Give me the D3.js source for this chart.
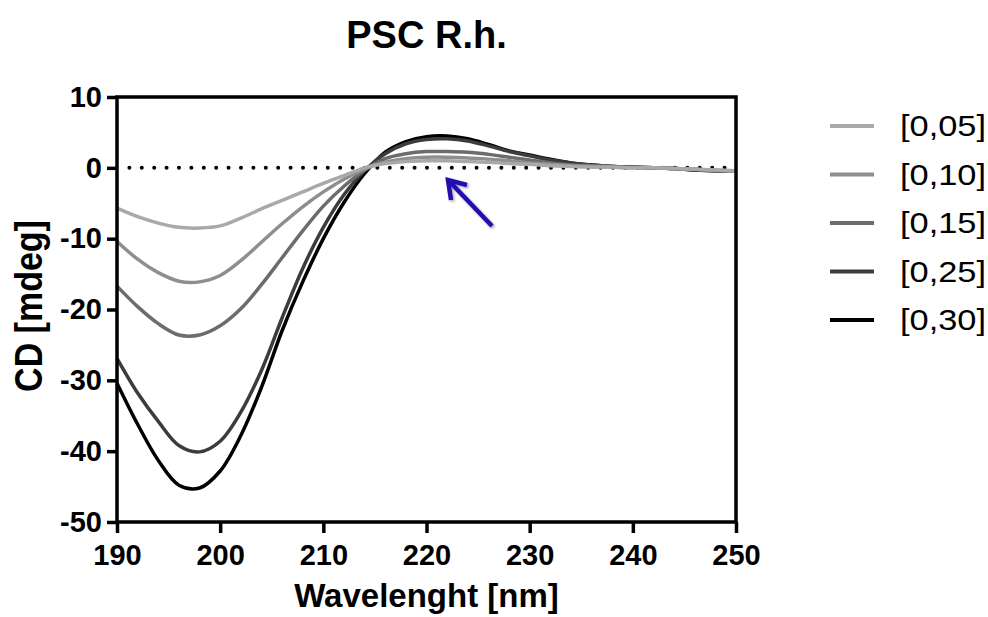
<!DOCTYPE html>
<html>
<head>
<meta charset="utf-8">
<script src="https://cdn.jsdelivr.net/npm/d3@7"></script>
<style>
  body { margin: 0; background: #fff; }
  text { font-family: "Liberation Sans", Arial, sans-serif; }
</style>
</head>
<body>
<div id="chart"></div>
<script>
// Données
const wavelengths = [190, 192, 194, 196, 198, 200, 202, 204, 206, 208, 210, 212, 214, 216, 218, 220,
  222, 224, 226, 228, 230, 232, 234, 236, 238, 240, 242, 244, 246, 248, 250];

const cd005 = [-5.7, -6.9, -7.8, -8.4, -8.5, -8.2, -7.1, -5.8, -4.6, -3.4, -2.2, -1.1, 0.0, 0.6, 0.9, 1.0,
  1.0, 0.9, 0.8, 0.6, 0.5, 0.3, 0.2, 0.1, 0.1, 0.0, 0.0, -0.1, -0.2, -0.3, -0.4];
const cd010 = [-10.4, -12.9, -14.8, -16.0, -16.1, -15.2, -13.1, -10.5, -7.9, -5.5, -3.4, -1.6, -0.2, 0.8, 1.3, 1.5,
  1.5, 1.4, 1.2, 1.0, 0.7, 0.5, 0.3, 0.2, 0.1, 0.0, 0.0, -0.1, -0.2, -0.3, -0.5];
const cd015 = [-16.7, -19.6, -22.0, -23.6, -23.6, -22.3, -19.9, -16.5, -12.7, -8.9, -5.4, -2.6, -0.3, 1.3, 2.0, 2.3,
  2.3, 2.2, 1.9, 1.5, 1.1, 0.7, 0.4, 0.3, 0.2, 0.1, 0.0, -0.1, -0.2, -0.4, -0.5];
const cd025 = [-26.9, -31.8, -35.8, -39.2, -40.1, -38.6, -34.5, -28.6, -21.2, -14.2, -8.4, -3.8, -0.4, 2.0, 3.4, 4.0,
  4.1, 3.8, 3.1, 2.3, 1.7, 1.1, 0.7, 0.4, 0.2, 0.1, 0.0, -0.1, -0.3, -0.4, -0.5];
const cd030 = [-30.4, -36.2, -41.3, -44.8, -45.2, -42.8, -37.8, -31.0, -23.0, -16.1, -10.0, -4.9, -0.8, 2.2, 3.7, 4.4,
  4.5, 4.1, 3.3, 2.4, 1.8, 1.2, 0.7, 0.4, 0.2, 0.1, 0.0, -0.1, -0.3, -0.4, -0.5];

const seriesNames = ["[0,05]", "[0,10]", "[0,15]", "[0,25]", "[0,30]"];
const seriesValues = [cd005, cd010, cd015, cd025, cd030];
const seriesColors = ["#a9a9a9", "#8e8e8e", "#6c6c6c", "#3c3c3c", "#000000"];

const xTicks = [190, 200, 210, 220, 230, 240, 250];
const yTicks = [10, 0, -10, -20, -30, -40, -50];

// Dimensions
const width = 988, height = 617;
const plotLeft = 117, plotRight = 736, plotTop = 97, plotBottom = 522;

const svg = d3.select("#chart")
    .append("svg")
    .attr("width", width)
    .attr("height", height);

const x = d3.scaleLinear().domain([190, 250]).range([plotLeft, plotRight]);
const y = d3.scaleLinear().domain([-50, 10]).range([plotBottom, plotTop]);

// Ligne zéro pointillée
svg.append("line")
    .attr("x1", x(191.2)).attr("x2", plotRight)
    .attr("y1", y(0)).attr("y2", y(0))
    .attr("stroke", "#000")
    .attr("stroke-width", 4)
    .attr("stroke-linecap", "round")
    .attr("stroke-dasharray", "0 12.4");

// Courbes (la plus foncée d'abord)
const line = d3.line()
    .x((d, i) => x(wavelengths[i]))
    .y(d => y(d))
    .curve(d3.curveCatmullRom.alpha(0.5));

for (let k = seriesValues.length - 1; k >= 0; k--) {
    svg.append("path")
        .attr("d", line(seriesValues[k]))
        .attr("fill", "none")
        .attr("stroke", seriesColors[k])
        .attr("stroke-width", 3.5)
        .attr("stroke-linejoin", "round");
}

// Cadre
svg.append("rect")
    .attr("x", plotLeft).attr("y", plotTop)
    .attr("width", plotRight - plotLeft).attr("height", plotBottom - plotTop)
    .attr("fill", "none")
    .attr("stroke", "#000")
    .attr("stroke-width", 3.5);

// Axes (tiret simple pour les négatifs)
const fmt = d => String(d);
const xAxis = svg.append("g")
    .attr("transform", `translate(0,${plotBottom})`)
    .call(d3.axisBottom(x).tickValues(xTicks).tickFormat(fmt).tickSize(11).tickPadding(11));
const yAxis = svg.append("g")
    .attr("transform", `translate(${plotLeft},0)`)
    .call(d3.axisLeft(y).tickValues(yTicks).tickFormat(fmt).tickSize(10).tickPadding(5));

[xAxis, yAxis].forEach(g => {
    g.select(".domain").remove();
    g.selectAll(".tick line").attr("stroke", "#000").attr("stroke-width", 3.5);
    g.selectAll(".tick text")
        .attr("fill", "#000")
        .style("font-family", "'Liberation Sans', Arial, sans-serif")
        .style("font-size", "29px")
        .style("font-weight", "bold");
});

// Titre et libellés
svg.append("text")
    .attr("x", (plotLeft + plotRight) / 2).attr("y", 48)
    .attr("text-anchor", "middle")
    .style("font-size", "38px").style("font-weight", "bold")
    .text("PSC R.h.");

svg.append("text")
    .attr("x", (plotLeft + plotRight) / 2).attr("y", 607)
    .attr("text-anchor", "middle")
    .style("font-size", "33px").style("font-weight", "bold")
    .text("Wavelenght [nm]");

svg.append("text")
    .attr("transform", `translate(42,306) rotate(-90) scale(1,1.15)`)
    .attr("text-anchor", "middle")
    .style("font-size", "34px").style("font-weight", "bold")
    .text("CD [mdeg]");

// Légende
const legend = svg.append("g").attr("transform", "translate(830,126)");
seriesNames.forEach((name, i) => {
    const g = legend.append("g").attr("transform", `translate(0,${i * 48.5})`);
    g.append("line")
        .attr("x1", 0).attr("x2", 44)
        .attr("stroke", seriesColors[i])
        .attr("stroke-width", 4);
    g.append("text")
        .attr("x", 70).attr("y", 10)
        .attr("textLength", 86)
        .attr("lengthAdjust", "spacingAndGlyphs")
        .style("font-size", "30px")
        .text(name);
});

// Flèche bleue
const defs = svg.append("defs");
defs.append("filter").attr("id", "shadow")
    .append("feDropShadow")
    .attr("dx", 1.5).attr("dy", 1.5).attr("stdDeviation", 1.2)
    .attr("flood-color", "#000").attr("flood-opacity", 0.35);

const arrow = svg.append("g").attr("filter", "url(#shadow)")
    .attr("stroke", "#2410b0").attr("stroke-width", 4.5)
    .attr("stroke-linecap", "butt").attr("fill", "none");
arrow.append("line").attr("x1", 492).attr("y1", 226).attr("x2", 449).attr("y2", 181);
arrow.append("polyline")
    .attr("points", "451,200 448,180 467,185")
    .attr("stroke-linejoin", "miter");
</script>
</body>
</html>
